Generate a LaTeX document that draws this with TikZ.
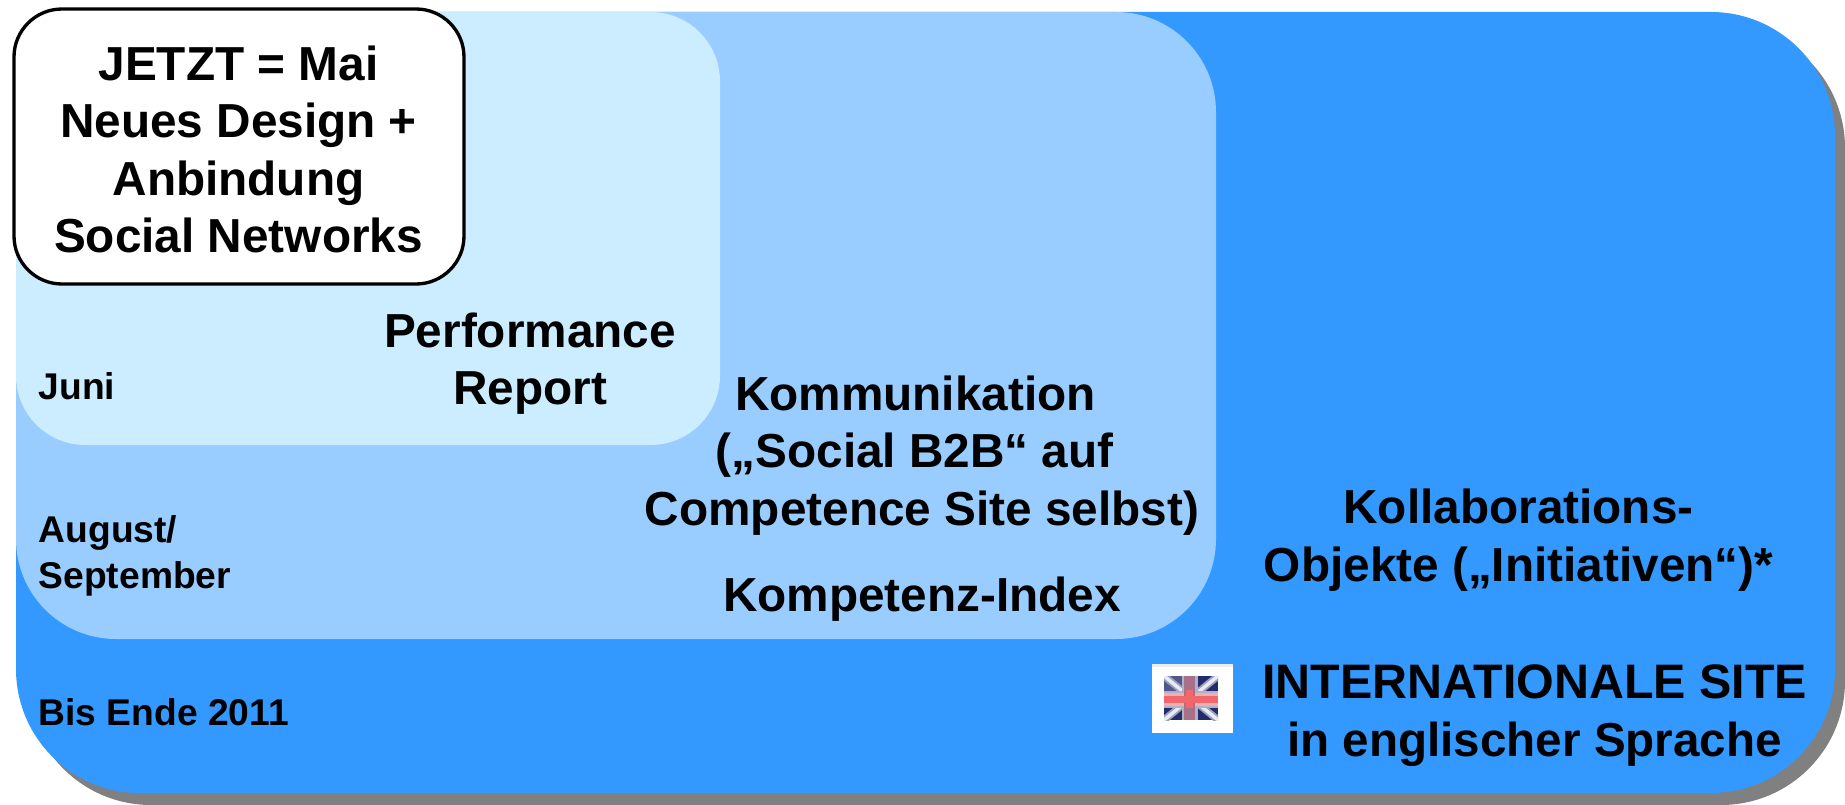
\documentclass[tikz,border=0pt]{standalone}
\usepackage{fontspec}
\setmainfont{Liberation Sans}
\definecolor{shadowgray}{HTML}{808080}
\definecolor{outerblue}{HTML}{3399FF}
\definecolor{midblue}{HTML}{99CCFF}
\definecolor{paleblue}{HTML}{CCECFF}
\definecolor{flagnavy}{HTML}{232B6A}
\definecolor{flagred}{HTML}{F0686C}
\definecolor{flagwhite}{HTML}{E8ECF2}
\tikzset{
  big/.style={font=\bfseries\fontsize{35.8}{43}\selectfont, align=center, inner sep=0pt, anchor=base},
  small/.style={font=\bfseries\fontsize{27.9}{34.5}\selectfont, align=left, inner sep=0pt, anchor=base west}
}
\begin{document}
\begin{tikzpicture}[x=0.75pt,y=-0.75pt]
\useasboundingbox (0,0) rectangle (1845,805);
% nested areas
\fill[shadowgray, rounded corners=93pt] (27,24) rectangle (1845,805);
\fill[outerblue, rounded corners=93pt] (16,12) rectangle (1835,793);
\fill[midblue, rounded corners=75pt] (16,12) rectangle (1216,639);
\fill[paleblue, rounded corners=52pt] (16,12) rectangle (720,445);
\draw[line width=2.5pt, fill=white, rounded corners=36pt] (14,9) rectangle (464,284);
% texts
\node[big] (now) at (238.5,252.5) {JETZT = Mai\\Neues Design +\\Anbindung\\Social Networks};
\node[big] (perf) at (530,405) {Performance\\Report};
\node[small] (juni) at (38.5,400) {Juni};
\node[small] (aug) at (38.5,588) {August/\\September};
\node[small] (ende) at (38.5,725) {Bis Ende 2011};
\node[big] (komm) at (922,525) {Kommunikation\hspace*{10pt}\\(„Social B2B“ auf\rule{11pt}{0pt}\\Competence Site selbst)};
\node[big] (index) at (922,611) {Kompetenz-Index};
\node[big] (koll) at (1518.5,581) {Kollaborations-\\Objekte („Initiativen“)*};
\node[big, font=\bfseries\fontsize{36.3}{43}\selectfont] (intl) at (1534.5,756) {INTERNATIONALE SITE\\{\fontsize{35.7}{43}\selectfont in englischer Sprache}};
% flag
\fill[white] (1152,664) rectangle (1233,733);
\fill[black!7] (1152,664) rectangle (1233,667);
\begin{scope}
\clip (1164,676) rectangle (1218,720);
\fill[flagnavy] (1164,676) rectangle (1218,720);
\fill[white!35!flagnavy, opacity=.6] (1164,676) rectangle (1182,692);
\draw[flagwhite!60!flagnavy, line width=5.5pt] (1164,676) -- (1218,720) (1164,720) -- (1218,676);
\draw[flagwhite, line width=2.6pt] (1164,676) -- (1218,720) (1164,720) -- (1218,676);
\fill[flagwhite!70!flagnavy] (1164,691) rectangle (1218,708);
\fill[flagwhite!70!flagnavy] (1182,676) rectangle (1198,720);
\fill[flagred!55!white] (1164,693) rectangle (1218,706);
\fill[flagred!55!flagnavy!80!white] (1184,676) rectangle (1195,720);
\fill[flagred] (1164,696) rectangle (1218,703);
\fill[flagred] (1186,690) rectangle (1193,708);
\end{scope}
\end{tikzpicture}
\end{document}
